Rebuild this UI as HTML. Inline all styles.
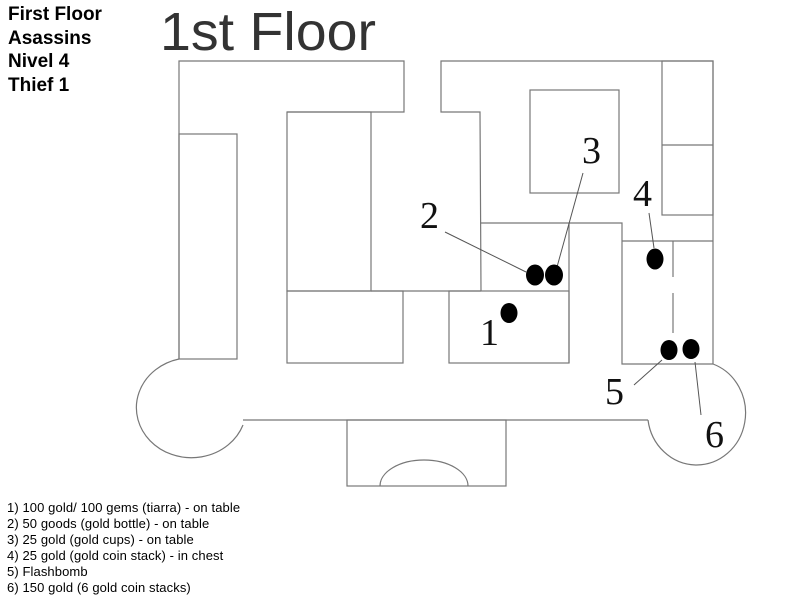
<!DOCTYPE html>
<html><head><meta charset="utf-8"><style>
body{margin:0;width:800px;height:600px;background:#fff;overflow:hidden;position:relative;font-family:"Liberation Sans",Arial,sans-serif}
.hd{position:absolute;left:8px;top:3px;font-weight:bold;font-size:19px;line-height:23.7px;color:#000}
.ls{position:absolute;left:7px;top:500px;font-size:13px;line-height:16px;color:#000;letter-spacing:0.1px}
svg{position:absolute;left:0;top:0}
</style></head><body>
<div class="hd">First Floor<br>Asassins<br>Nivel 4<br>Thief 1</div>
<svg width="800" height="600" viewBox="0 0 800 600">
<text x="160" y="50" font-family="Liberation Sans, sans-serif" font-size="54" fill="#333" textLength="216" lengthAdjust="spacingAndGlyphs">1st Floor</text>
<g fill="none" stroke="#777" stroke-width="1.2">
<polyline points="179,359 179,61 404,61 404,112 287,112"/>
<rect x="179" y="134" width="58" height="225"/>
<rect x="287" y="112" width="84" height="179"/>
<line x1="371" y1="291" x2="481" y2="291"/>
<rect x="287" y="291" width="116" height="72"/>
<rect x="449" y="291" width="120" height="72"/>
<path d="M179,359 A55,50 0 1 0 243,425"/>
<line x1="243" y1="420" x2="648" y2="420"/>
<rect x="347" y="420" width="159" height="66"/>
<path d="M380,486 A44,26 0 0 1 468,486"/>
<polyline points="481,291 480,112 441,112 441,61 713,61 713,364"/>
<rect x="530" y="90" width="89" height="103"/>
<rect x="662" y="61" width="51" height="154"/>
<line x1="662" y1="145" x2="713" y2="145"/>
<polyline points="480,223 622,223 622,364 713,364"/>
<line x1="569" y1="223" x2="569" y2="363"/>
<line x1="622" y1="241" x2="713" y2="241"/>
<line x1="673" y1="241" x2="673" y2="277"/>
<line x1="673" y1="293" x2="673" y2="333"/>
<path d="M713,364 A49,52 0 1 1 648,420"/>
</g>
<g stroke="#555" stroke-width="1">
<line x1="445" y1="232" x2="526" y2="272"/>
<line x1="583" y1="173" x2="557" y2="267"/>
<line x1="649" y1="213" x2="654" y2="248"/>
<line x1="634" y1="385" x2="662" y2="360"/>
<line x1="695" y1="362" x2="701" y2="415"/>
</g>
<g fill="#000">
<ellipse cx="535" cy="275" rx="9" ry="10.5"/>
<ellipse cx="554" cy="275" rx="9" ry="10.5"/>
<ellipse cx="509" cy="313" rx="8.5" ry="10"/>
<ellipse cx="655" cy="259" rx="8.5" ry="10.5"/>
<ellipse cx="669" cy="350" rx="8.5" ry="10"/>
<ellipse cx="691" cy="349" rx="8.5" ry="10"/>
</g>
<g font-family="Liberation Serif, serif" font-size="38" fill="#111">
<text x="420" y="228">2</text>
<text x="582" y="163">3</text>
<text x="633" y="206">4</text>
<text x="480" y="345">1</text>
<text x="605" y="404">5</text>
<text x="705" y="447">6</text>
</g>
</svg>
<div class="ls">1) 100 gold/ 100 gems (tiarra) - on table<br>2) 50 goods (gold bottle) - on table<br>3) 25 gold (gold cups) - on table<br>4) 25 gold (gold coin stack) - in chest<br>5) Flashbomb<br>6) 150 gold (6 gold coin stacks)</div>
</body></html>
